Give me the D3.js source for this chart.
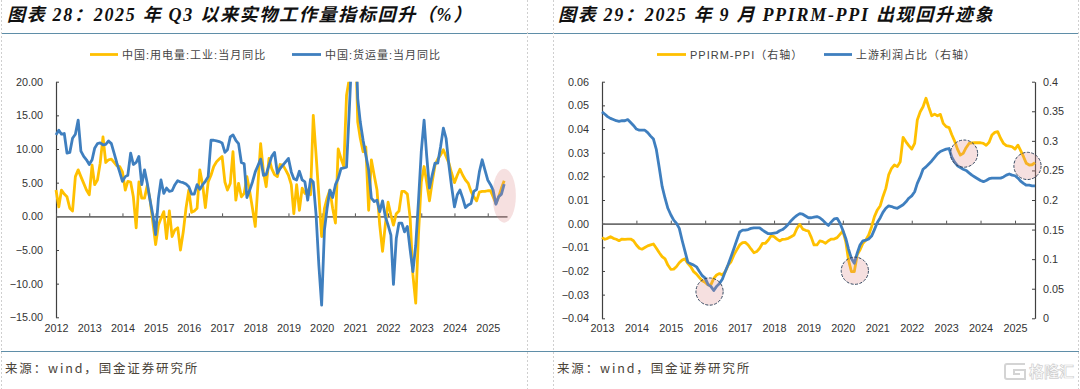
<!doctype html>
<html lang="zh">
<head>
    <meta charset="utf-8">
    <title>图表 28 / 图表 29</title>
    <script src="https://d3js.org/d3.v7.min.js"></script>
    <style>
        html, body { margin: 0; padding: 0; background: #fff; }
        svg { display: block; }
        text { font-family: "Liberation Sans", "Noto Sans CJK SC", sans-serif; }
        .title { font-family: "Liberation Serif", "Noto Sans CJK SC", serif; font-size: 18px; font-weight: bold; font-style: italic; letter-spacing: 1.7px; fill: #111; }
        .legend { font-size: 11px; letter-spacing: 1px; fill: #444; }
        .source { font-family: "Noto Sans CJK SC", sans-serif; font-size: 12.5px; letter-spacing: 1.85px; fill: #4a4338; }
        .axis text { font-size: 10.8px; fill: #333; font-family: "Liberation Sans", sans-serif; }
    </style>
</head>
<body>
    <script>
        // Left chart, monthly from 2012-01
        const powerYoy = [
            3.9, 1.4, 3.9, 3.3, 2.9, 1.2, 0.8, 5.9, 6.9, 5.9, 4.9, 3.9,
            3.2, 7.6, 4.7, 5.4, 7.9, 11.8, 8, 8.4, 8.5, 8, 7.5, 7.4,
            6.6, 3.9, 5.2, 5.1, 2.9, -1.7, 5.1, 2.7, 2.7, 4.6, 2.4, -0.8,
            -4.2, -1.3, -0.3, 0.7, -3.3, 0.8, -3, -2, -1.7, -5, -2.3, 1.2,
            3.9, 0.6, 0.8, 1.2, 6.9, 4.7, 1.3, 5.1, 6.1, 7.4, 8.1, 8.5,
            8.9, 5.1, 3.9, 4.9, 9.6, 2.4, 4.9, 2.9, 3.4, 5.9, 3.7, 1.2,
            -1.5, 5.1, 10.8, 6.6, 4.4, 8.6, 7.1, 6.2, 5.9, 7.7, 7.6, 6.9,
            6.1, 4.7, 0.4, 4.7, 0.9, 4.2, 3.4, 3.9, 3.2, 15, 9.1, 3.2,
            -3, 1.2, 2.7, 3.9, 1.2, -1, 10, 8.6, 7.4, 18, 20.5, 25,
            30, 14, 11.6, 9.6, 10.3, 0.9, 8.4, 6.1, 3.9, -1.3, -5.2, -1.3,
            2.1, 0.2, -1.3, 0.4, 0.8, 3.7, 3.7, 3.3, -0.3, -8.7, -12.9, -2.8,
            5.1, 7.4, 5.1, 2.3, 5.1, 7.6, 8.5, 9.1, 9.9, 8.9, 7.9, 6.4,
            5, 6.1, 7, 6.1, 5.4, 4.9, 3.7, 2.9, 2.3, 3.6, 3.7, 3.7,
            3.8, 3.8, 2.9, 1.9, 2.9, 4.2, 5.3
        ];
        const freightYoy = [
            12.1, 12.8, 12.2, 12.3, 9.4, 9.5, 11.6, 12.2, 14.3, 9.7, 8.9, 8.4,
            7.7, 8.4, 10.1, 10.8, 10.9, 10.6, 10.7, 11.2, 10.8, 9.4, 7.9, 6.6,
            5.2, 5.9, 6.1, 9.4, 7.7, 8, 8.9, 4.7, 6.9, 4.9, 2.4, 0.2,
            -2.7, 2.7, 5.4, 3.4, 4.2, 3.7, 3.8, 4.7, 5.3, 5.1, 5, 4.8,
            4.4, 3.3, 3.3, 4.7, 4, 4.7, 5.2, 5.9, 11.3, 11.3, 11.2, 11.1,
            10.9, 9.5, 9.9, 11.8, 12.1, 11.3, 10.8, 8, 7.8, 2.8, 3.9, 5.1,
            6.6, 7.6, 8.5, 6.1, 6.2, 7.6, 8.9, 9.5, 6.4, 7.1, 7.6, 8.1,
            8.6, 6.6, 5.6, 5.4, 6.7, 5.4, 5.1, 2.4, 5.5, 5.1, 0.2, -7.2,
            -13.2, -2, 1.2, 3.9, 2.8, 4.7, 5.6, 7.1, 7.2, 7.3, 16, 25,
            30, 17.5, 14, 11.3, 9.1, 6.9, 2.7, 2.2, 2.4, 0.7, 2.3, 0,
            -1.3, -2.8, -10.1, -3.3, -1, -1, -2.3, -1.5, -5, -8.2, -4.3, 2.2,
            9.6, 14.3, 9.1, 4.2, 6.1, 7.9, 7.9, 10.3, 13.1, 11.6, 7.6, 4.4,
            1.4, 3.2, 3.9, 2.7, 1.3, 1.7, 1.9, 3.7, 4, 6.6, 8.4, 6.9,
            5.4, 4.7, 3.9, 1.8, 2.9, 3.3, 4.8
        ];

        // Right chart, monthly from 2013-01
        const ppirmGap = [
            -0.0059, -0.0066, -0.0062, -0.0055, -0.0062, -0.0066, -0.0072, -0.0065, -0.0066, -0.0065, -0.0065, -0.0072,
            -0.0090, -0.0104, -0.0108, -0.0101, -0.0094, -0.0090, -0.0086, -0.0104, -0.0123, -0.0139, -0.0149, -0.0175,
            -0.0193, -0.0192, -0.0182, -0.0165, -0.0154, -0.0149, -0.0168, -0.0182, -0.0203, -0.0213, -0.0228, -0.0241,
            -0.0248, -0.0259, -0.0259, -0.0231, -0.0217, -0.0211, -0.0217, -0.0203, -0.0175, -0.0161, -0.0132, -0.0111,
            -0.0090, -0.0080, -0.0079, -0.0090, -0.0107, -0.0123, -0.0118, -0.0104, -0.0083, -0.0083, -0.0069, -0.0051,
            -0.0055, -0.0065, -0.0073, -0.0066, -0.0065, -0.0062, -0.0055, -0.0048, -0.0020, -0.0003, -0.0023, -0.0028,
            -0.0031, -0.0059, -0.0090, -0.0090, -0.0073, -0.0076, -0.0083, -0.0072, -0.0065, -0.0065, -0.0059, -0.0045,
            -0.0031, -0.0076, -0.0154, -0.0203, -0.0203, -0.0132, -0.0111, -0.0083, -0.0069, -0.0048, -0.0013, 0.0030,
            0.0058, 0.0076, 0.0114, 0.0149, 0.0206, 0.0234, 0.0248, 0.0241, 0.0262, 0.0365, 0.0346, 0.0330,
            0.0315, 0.0339, 0.0438, 0.0473, 0.0494, 0.0530, 0.0492, 0.0456, 0.0463, 0.0456, 0.0462, 0.0424,
            0.0410, 0.0406, 0.0377, 0.0349, 0.0315, 0.0290, 0.0297, 0.0321, 0.0339, 0.0341, 0.0342, 0.0342,
            0.0342, 0.0339, 0.0331, 0.0344, 0.0375, 0.0386, 0.0389, 0.0361, 0.0339, 0.0330, 0.0328, 0.0325,
            0.0315, 0.0332, 0.0310, 0.0283, 0.0255, 0.0248, 0.0249, 0.0258
        ];
        const upstreamShare = [
            0.349, 0.345, 0.341, 0.338, 0.336, 0.334, 0.333, 0.334, 0.334, 0.336, 0.331, 0.326,
            0.320, 0.318, 0.318, 0.318, 0.314, 0.308, 0.303, 0.285, 0.254, 0.223, 0.203, 0.186,
            0.175, 0.166, 0.161, 0.152, 0.132, 0.113, 0.095, 0.092, 0.090, 0.087, 0.079, 0.072,
            0.068, 0.057, 0.054, 0.047, 0.054, 0.059, 0.066, 0.079, 0.091, 0.104, 0.118, 0.132,
            0.146, 0.149, 0.149, 0.150, 0.152, 0.153, 0.153, 0.153, 0.149, 0.146, 0.143, 0.143,
            0.144, 0.145, 0.148, 0.150, 0.154, 0.159, 0.165, 0.170, 0.174, 0.177, 0.176, 0.173,
            0.170, 0.170, 0.171, 0.172, 0.170, 0.166, 0.161, 0.157, 0.163, 0.168, 0.169, 0.161,
            0.149, 0.135, 0.117, 0.101, 0.093, 0.110, 0.124, 0.131, 0.132, 0.134, 0.139, 0.150,
            0.162, 0.170, 0.179, 0.186, 0.190, 0.189, 0.187, 0.186, 0.189, 0.192, 0.197, 0.203,
            0.207, 0.214, 0.228, 0.239, 0.252, 0.256, 0.261, 0.266, 0.272, 0.278, 0.282, 0.284,
            0.286, 0.287, 0.273, 0.264, 0.258, 0.255, 0.252, 0.250, 0.246, 0.242, 0.239, 0.236,
            0.233, 0.231, 0.233, 0.236, 0.237, 0.237, 0.237, 0.237, 0.239, 0.242, 0.244, 0.242,
            0.241, 0.237, 0.232, 0.228, 0.225, 0.225, 0.224, 0.224
        ];

        const leftYTicks = [-15, -10, -5, 0, 5, 10, 15, 20];
        const rightYTicks = [-0.04, -0.03, -0.02, -0.01, 0, 0.01, 0.02, 0.03, 0.04, 0.05, 0.06];
        const shareTicks = [0, 0.05, 0.1, 0.15, 0.2, 0.25, 0.3, 0.35, 0.4];
        const leftYears = d3.range(2012, 2026);
        const rightYears = d3.range(2013, 2026);

        const yellow = "#FFC000";
        const blue = "#3F7FBF";
        const pink = "rgba(222,140,140,0.27)";

        const svg = d3.select("body")
            .append("svg")
            .attr("width", 1080)
            .attr("height", 389);

        // Page frame: rules and the dashed panel edges
        [33, 351].forEach(function (y) {
            svg.append("line").attr("x1", 1).attr("x2", 1079).attr("y1", y + 0.5).attr("y2", y + 0.5)
                .attr("stroke", "#5f8ea8").attr("stroke-width", 1);
        });
        [1, 527, 553, 1078].forEach(function (x) {
            svg.append("line").attr("x1", x + 0.5).attr("x2", x + 0.5).attr("y1", 0).attr("y2", 389)
                .attr("stroke", "#cfcfcf").attr("stroke-dasharray", "2,2");
        });

        function monthDate(startYear, i) {
            return new Date(startYear, i, 1);
        }

        function drawSeries(x, y, startYear, values, color, clip) {
            const line = d3.line()
                .x(function (d, i) { return x(monthDate(startYear, i)); })
                .y(function (d) { return y(d); });
            const path = svg.append("path")
                .datum(values)
                .attr("d", line)
                .attr("fill", "none")
                .attr("stroke", color)
                .attr("stroke-width", 2.8)
                .attr("stroke-linejoin", "round");
            if (clip) path.attr("clip-path", "url(#" + clip + ")");
        }

        function drawYearAxes(x, y0, bottom, years) {
            const dates = years.map(function (d) { return new Date(d, 0, 1); });
            // tick marks sit on the zero line, labels under the plot
            const zero = svg.append("g")
                .attr("transform", "translate(0," + y0 + ")")
                .call(d3.axisTop(x).tickValues(dates).tickSize(3).tickSizeOuter(0).tickFormat(""));
            zero.select(".domain").attr("stroke", "#6f6f6f").attr("stroke-width", 1.6);
            zero.selectAll("line").attr("stroke", "#555");

            const labels = svg.append("g")
                .attr("class", "axis")
                .attr("transform", "translate(0," + bottom + ")")
                .call(d3.axisBottom(x).tickValues(dates).tickSize(0).tickPadding(6).tickFormat(d3.timeFormat("%Y")));
            labels.select(".domain").remove();
        }

        function drawValueAxis(gen, xPos, ticks, fmt, padding) {
            const g = svg.append("g")
                .attr("class", "axis")
                .attr("transform", "translate(" + xPos + ",0)")
                .call(gen.tickValues(ticks).tickSizeInner(-3).tickSizeOuter(0).tickPadding(padding).tickFormat(fmt));
            g.select(".domain").attr("stroke", "#404040").attr("stroke-width", 1.2);
            g.selectAll("line").attr("stroke", "#404040");
        }

        function legendItem(x1, x2, y, color, label) {
            svg.append("line").attr("x1", x1).attr("x2", x2).attr("y1", y).attr("y2", y)
                .attr("stroke", color).attr("stroke-width", 2.8);
            svg.append("text").attr("class", "legend").attr("x", x2 + 4).attr("y", y + 4).text(label);
        }

        /* Left chart */
        const leftX = d3.scaleTime()
            .domain([new Date(2012, 0, 1), new Date(2012, 163, 1)])
            .range([56, 507]);
        const leftY = d3.scaleLinear()
            .domain([-15, 20])
            .range([317.3, 81.7]);

        svg.append("defs").append("clipPath").attr("id", "leftClip")
            .append("rect").attr("x", 50).attr("y", leftY(20)).attr("width", 470).attr("height", leftY(-15) - leftY(20));

        drawValueAxis(d3.axisLeft(leftY), 56, leftYTicks, d3.format(".2f"), 13);
        drawYearAxes(leftX, leftY(0), 318, leftYears);
        drawSeries(leftX, leftY, 2012, powerYoy, yellow, "leftClip");
        drawSeries(leftX, leftY, 2012, freightYoy, blue, "leftClip");

        // Highlight over the latest readings
        svg.append("ellipse")
            .attr("cx", leftX(monthDate(2012, 162))).attr("cy", leftY(3.07))
            .attr("rx", 11.7).attr("ry", 27).attr("fill", pink);

        legendItem(90, 118, 54.5, yellow, "中国:用电量:工业:当月同比");
        legendItem(292, 321, 54.5, blue, "中国:货运量:当月同比");

        /* Right chart */
        const rightX = d3.scaleTime()
            .domain([new Date(2013, 0, 1), new Date(2013, 151, 1)])
            .range([602, 1035]);
        const rightY = d3.scaleLinear()
            .domain([-0.04, 0.06])
            .range([318.3, 81.7]);
        const shareY = d3.scaleLinear()
            .domain([0, 0.4])
            .range([318.3, 81.7]);

        drawValueAxis(d3.axisLeft(rightY), 602, rightYTicks, d3.format(".2f"), 13);
        drawValueAxis(d3.axisRight(shareY), 1035, shareTicks, function (d) { return String(d); }, 8);
        drawYearAxes(rightX, rightY(0), 318, rightYears);
        drawSeries(rightX, rightY, 2013, ppirmGap, yellow);
        drawSeries(rightX, shareY, 2013, upstreamShare, blue);

        // Dashed circles around the turning points (month index, gap value)
        [[37.5, -0.0287], [88.2, -0.0199], [126.3, 0.0296], [148.4, 0.0244]].forEach(function (d) {
            svg.append("circle")
                .attr("cx", rightX(monthDate(2013, Math.floor(d[0]))) + (d[0] % 1) * 2.87)
                .attr("cy", rightY(d[1]))
                .attr("r", 13.6)
                .attr("fill", pink)
                .attr("stroke", "#33475f")
                .attr("stroke-width", 1)
                .attr("stroke-dasharray", "3,1.5");
        });

        legendItem(657, 686, 54.5, yellow, "PPIRM-PPI（右轴）");
        legendItem(824, 852, 54.5, blue, "上游利润占比（右轴）");

        /* Titles and sources */
        svg.append("text").attr("class", "title").attr("x", 7).attr("y", 21)
            .text("图表 28：2025 年 Q3 以来实物工作量指标回升（%）");
        svg.append("text").attr("class", "title").attr("x", 558).attr("y", 21)
            .text("图表 29：2025 年 9 月 PPIRM-PPI 出现回升迹象");
        svg.append("text").attr("class", "source").attr("x", 5).attr("y", 373)
            .text("来源：wind，国金证券研究所");
        svg.append("text").attr("class", "source").attr("x", 557).attr("y", 373)
            .text("来源：wind，国金证券研究所");

        // Watermark
        svg.append("path")
            .attr("d", "M1025,364H1007Q1005,364 1005,366V377Q1005,379 1007,379H1025V370H1014V374H1020")
            .attr("fill", "none").attr("stroke", "#d4d4d4").attr("stroke-width", 2);
        svg.append("text").attr("x", 1029).attr("y", 377).attr("font-size", 15).attr("font-weight", "bold")
            .attr("fill", "#fff").attr("stroke", "#cfcfcf").attr("stroke-width", 0.7).text("格隆汇");
    </script>
</body>
</html>
